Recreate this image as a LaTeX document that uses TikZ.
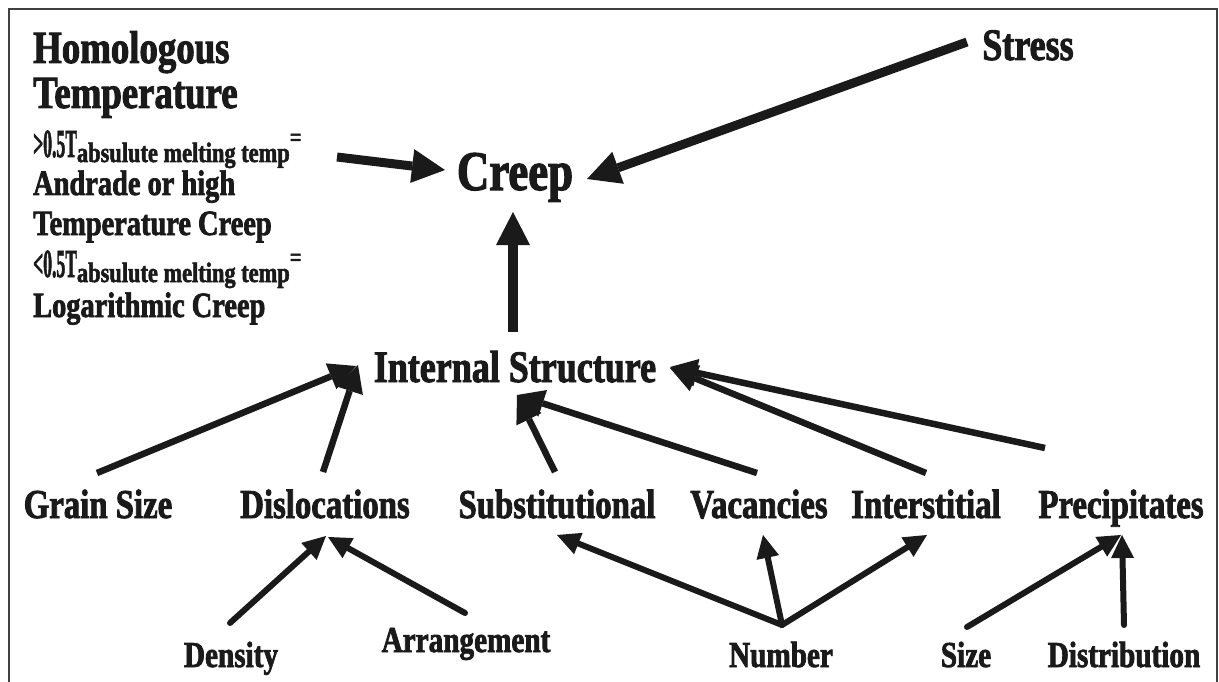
\documentclass[tikz,border=0pt]{standalone}
\usepackage{fontspec}
\usepackage{graphicx}
\setmainfont{Liberation Serif}[FakeStretch=0.8, BoldFeatures={FakeBold=2}]
\usetikzlibrary{arrows.meta,calc}
\definecolor{ink}{HTML}{1A1A1A}
\tikzset{
  txt/.style={inner sep=0pt, text=ink},
  hdr/.style={txt, anchor=base west, font=\bfseries\fontsize{46}{46}\selectfont},
  blk/.style={txt, anchor=base west, font=\bfseries\fontsize{35.5}{35.5}\selectfont},
  creepf/.style={txt, anchor=base, font=\bfseries\fontsize{56}{56}\selectfont},
  isf/.style={txt, anchor=base, font=\bfseries\fontsize{45}{45}\selectfont},
  rowf/.style={txt, anchor=base, font=\bfseries\fontsize{41}{41}\selectfont},
  lowf/.style={txt, anchor=base, font=\bfseries\fontsize{36.5}{36.5}\selectfont},
  bigarr/.style={draw=ink, line width=9pt, -{Triangle[length=33pt,width=34pt,line width=0pt]}},
  midarr/.style={draw=ink, line width=6.5pt, -{Triangle[length=27pt,width=28pt,line width=0pt]}},
  smlarr/.style={draw=ink, line width=6pt, line cap=round, -{Triangle[length=23pt,width=23pt,line width=0pt]}},
}
\newcommand{\tsub}[1]{\raisebox{-5pt}{\fontsize{28}{28}\selectfont #1}}
\newcommand{\tsup}[1]{\raisebox{11pt}{\fontsize{26}{26}\selectfont #1}}
\begin{document}
\begin{tikzpicture}[x=1pt,y=-1pt]
\useasboundingbox (0,0) rectangle (1219,682);
\draw[line width=1.4pt, black!75] (9,682) -- (9,9) -- (1217,9) -- (1217,682);

% left text block
\node[hdr] (homo) at (33,63) {Homologous};
\node[hdr] (temp) at (33,108) {Temperature};
\node[blk] (gt) at (33,157) {\scalebox{0.62}[1.12]{>0.5T}\tsub{absulute melting temp}\tsup{=}};
\node[blk] (andr) at (33,195) {Andrade or high};
\node[blk] (tcr) at (33,235) {Temperature Creep};
\node[blk] (lt) at (33,277) {\scalebox{0.62}[1.12]{<0.5T}\tsub{absulute melting temp}\tsup{=}};
\node[blk] (loga) at (33,317) {Logarithmic Creep};

% main nodes
\node[creepf] (creep) at (515,190) {Creep};
\node[isf] (stress) at (1028,60) {Stress};
\node[isf] (is) at (515,382) {Internal Structure};

\node[rowf] (gs) at (98,518) {Grain Size};
\node[rowf] (dis) at (325,518) {Dislocations};
\node[rowf] (sub) at (557,518) {Substitutional};
\node[rowf] (vac) at (759,518) {Vacancies};
\node[rowf] (int) at (926,518) {Interstitial};
\node[rowf] (pre) at (1121,518) {Precipitates};

\node[lowf] (den) at (231,667) {Density};
\node[lowf] (arr) at (466,652) {Arrangement};
\node[lowf] (num) at (781,667) {Number};
\node[lowf] (size) at (966,667) {Size};
\node[lowf] (dist) at (1124,667) {Distribution};

% arrows into Creep
\draw[bigarr] ($(gt.base west)+(304,0)$) -- ($(creep.base)+(-70,-20)$);
\draw[bigarr] ($(stress.base)+(-61,-18)$) -- ($(creep.base)+(72,-11)$);
\draw[bigarr, line width=10pt] ($(is.base)+(-2,-50)$) -- ($(creep.base)+(-2,22)$);

% arrows into Internal Structure
\draw[midarr] ($(gs.base)+(-1,-45)$) -- ($(is.base)+(-159,-16)$);
\draw[midarr] ($(dis.base)+(-2,-46)$) -- ($(is.base)+(-157,-17)$);
\draw[midarr] ($(sub.base)+(-2,-46)$) -- ($(is.base)+(2,13)$);
\draw[midarr] ($(vac.base)+(-2,-45)$) -- ($(is.base)+(2,13)$);
\draw[midarr] ($(int.base)+(0,-45)$) -- ($(is.base)+(155,-14)$);
\draw[midarr] ($(pre.base)+(-76,-70)$) -- ($(is.base)+(155,-15)$);

% lower arrows
\draw[smlarr] ($(den.base)+(-1,-44)$) -- ($(dis.base)+(1,18)$);
\draw[smlarr] ($(arr.base)+(-1,-39)$) -- ($(dis.base)+(3,19)$);
\coordinate (nj) at ($(num.base)+(1,-42)$);
\draw[smlarr] (nj) -- ($(sub.base)+(0,17)$);
\draw[smlarr] (nj) -- ($(vac.base)+(4,17)$);
\draw[smlarr] (nj) -- ($(int.base)+(1,17)$);
\draw[smlarr] ($(size.base)+(1,-40)$) -- ($(pre.base)+(0,17)$);
\draw[smlarr] ($(dist.base)+(0,-42)$) -- ($(pre.base)+(1,17)$);
\end{tikzpicture}
\end{document}
